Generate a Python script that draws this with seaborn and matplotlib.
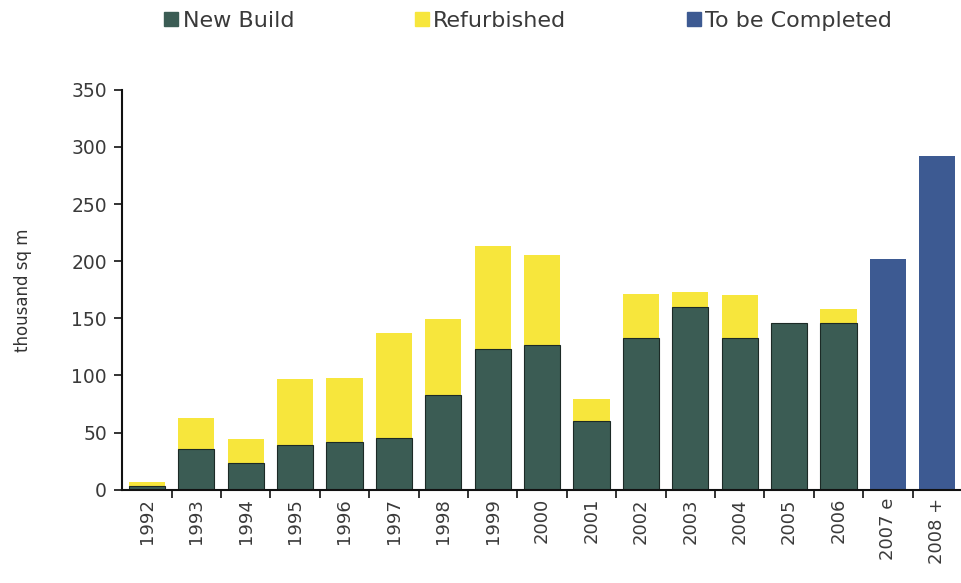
import numpy as np
import pandas as pd
import matplotlib
matplotlib.use("Agg")
import matplotlib.pyplot as plt
import seaborn as sns
from matplotlib.lines import Line2D
from matplotlib.ticker import MultipleLocator, FixedLocator

years = ["1992", "1993", "1994", "1995", "1996", "1997", "1998", "1999", "2000",
         "2001", "2002", "2003", "2004", "2005", "2006", "2007 e", "2008 +"]
new_build = [3, 36, 23, 39, 42, 45, 83, 123, 127, 60, 133, 160, 133, 146, 146, 0, 0]
refurbished = [4, 27, 21, 58, 56, 92, 66, 90, 78, 19, 38, 13, 37, 0, 12, 0, 0]
to_be_completed = [0, 0, 0, 0, 0, 0, 0, 0, 0, 0, 0, 0, 0, 0, 0, 202, 292]

c_new = "#3b5c54"
c_ref = "#f7e63c"
c_tbc = "#3d5a92"

sns.set_theme(style="white")
plt.rcParams["font.family"] = ["DejaVu Sans"]

df = pd.DataFrame({
    "year": years,
    "new": new_build,
    "total": np.add(new_build, refurbished),
    "tbc": to_be_completed,
})

fig = plt.figure(figsize=(9.62, 5.83), dpi=100)
ax = fig.add_axes([0.127, 0.16, 0.873, 0.686])

sns.barplot(data=df, x="year", y="total", color=c_ref, saturation=1, width=0.73,
            linewidth=0, ax=ax)
sns.barplot(data=df, x="year", y="new", color=c_new, saturation=1, width=0.73,
            edgecolor="#1c2a26", linewidth=0.8, ax=ax)
sns.barplot(data=df, x="year", y="tbc", color=c_tbc, saturation=1, width=0.73,
            linewidth=0, ax=ax)

ax.set_xlim(-0.5, len(years) - 0.5)
ax.set_ylim(0, 350)
ax.yaxis.set_major_locator(MultipleLocator(50))
ax.set_xlabel("")
ax.set_ylabel("thousand sq m", fontsize=12, color="#333333", labelpad=28)

for s in ["top", "right"]:
    ax.spines[s].set_visible(False)
for s in ["left", "bottom"]:
    ax.spines[s].set_color("#111111")
    ax.spines[s].set_linewidth(1.5)

ax.tick_params(axis="y", which="major", left=True, length=6, width=1.2,
               color="#111111", labelsize=13.5, labelcolor="#3a3a3a", pad=5)
ax.tick_params(axis="x", which="major", bottom=False, length=0, labelsize=13,
               labelcolor="#3a3a3a", labelrotation=90, pad=6)
ax.xaxis.set_minor_locator(FixedLocator(np.arange(0.5, len(years) - 0.5, 1)))
ax.tick_params(axis="x", which="minor", bottom=True, length=6, width=1.2,
               color="#111111")

handles = [
    Line2D([], [], marker="s", linestyle="none", markersize=10, color=c_new, label="New Build"),
    Line2D([], [], marker="s", linestyle="none", markersize=10, color=c_ref, label="Refurbished"),
    Line2D([], [], marker="s", linestyle="none", markersize=10, color=c_tbc, label="To be Completed"),
]
leg = fig.legend(handles=handles, loc="upper left", bbox_to_anchor=(0.147, 1.015),
                 ncol=3, frameon=False, fontsize=16, columnspacing=5.3,
                 handletextpad=0.05, handlelength=0.9)
for t in leg.get_texts():
    t.set_color("#3a3a3a")

fig.savefig("out.png", dpi=100)
